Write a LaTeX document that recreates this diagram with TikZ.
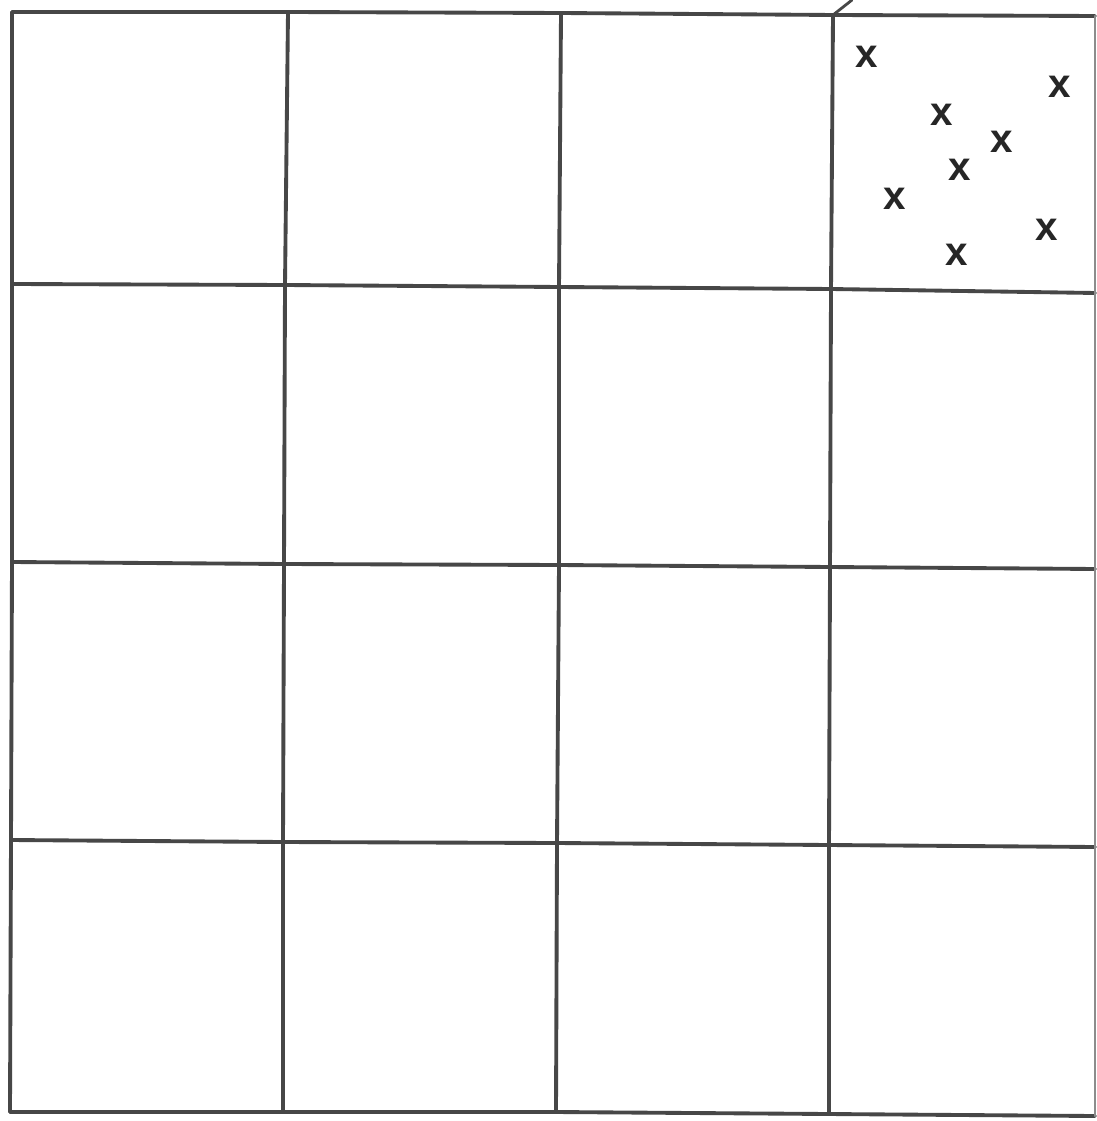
\documentclass[tikz,border=0pt]{standalone}
\usepackage{fontspec}
\setmainfont{Liberation Sans}
\begin{document}
\begin{tikzpicture}[x=0.02cm,y=-0.02cm,
  gridline/.style={line width=2.2pt,draw=black!72,line cap=round,line join=round},
  mark x/.style={inner sep=0pt,font=\fontsize{23}{23}\selectfont\bfseries,text=black!85}]
\useasboundingbox[fill=white] (0,0) rectangle (1097,1121);
% grid points (column i, row j)
\coordinate (p00) at (12,12);   \coordinate (p10) at (288,12);  \coordinate (p20) at (561,13);  \coordinate (p30) at (833,15);  \coordinate (p40) at (1095,16);
\coordinate (p01) at (12,284);  \coordinate (p11) at (285,285); \coordinate (p21) at (559,287); \coordinate (p31) at (831,289); \coordinate (p41) at (1095,293);
\coordinate (p02) at (12,562);  \coordinate (p12) at (284,564); \coordinate (p22) at (559,565); \coordinate (p32) at (830,567); \coordinate (p42) at (1095,569);
\coordinate (p03) at (11,840);  \coordinate (p13) at (283,842); \coordinate (p23) at (557,843); \coordinate (p33) at (829,845); \coordinate (p43) at (1095,847);
\coordinate (p04) at (10,1112); \coordinate (p14) at (283,1112);\coordinate (p24) at (556,1112);\coordinate (p34) at (829,1114);\coordinate (p44) at (1095,1116);
% horizontal lines
\foreach \j in {0,...,4}{
  \draw[gridline] (p0\j) -- (p1\j) -- (p2\j) -- (p3\j) -- (p4\j);
}
% vertical lines
\foreach \i in {0,...,3}{
  \draw[gridline] (p\i0) -- (p\i1) -- (p\i2) -- (p\i3) -- (p\i4);
}
\draw[gridline,black!45,line width=1.2pt] (p40) -- (p41) -- (p42) -- (p43) -- (p44);
% small tick at top
\coordinate (tick) at (852,0);
\draw[gridline,line width=1.6pt] (p30) -- (tick);
% crosses
\node[mark x] (x1) at (867,57) {x};
\node[mark x] (x2) at (1060,87) {x};
\node[mark x] (x3) at (942,115) {x};
\node[mark x] (x4) at (1002,142) {x};
\node[mark x] (x5) at (960,170) {x};
\node[mark x] (x6) at (895,199) {x};
\node[mark x] (x7) at (1047,230) {x};
\node[mark x] (x8) at (957,255) {x};
\end{tikzpicture}
\end{document}
